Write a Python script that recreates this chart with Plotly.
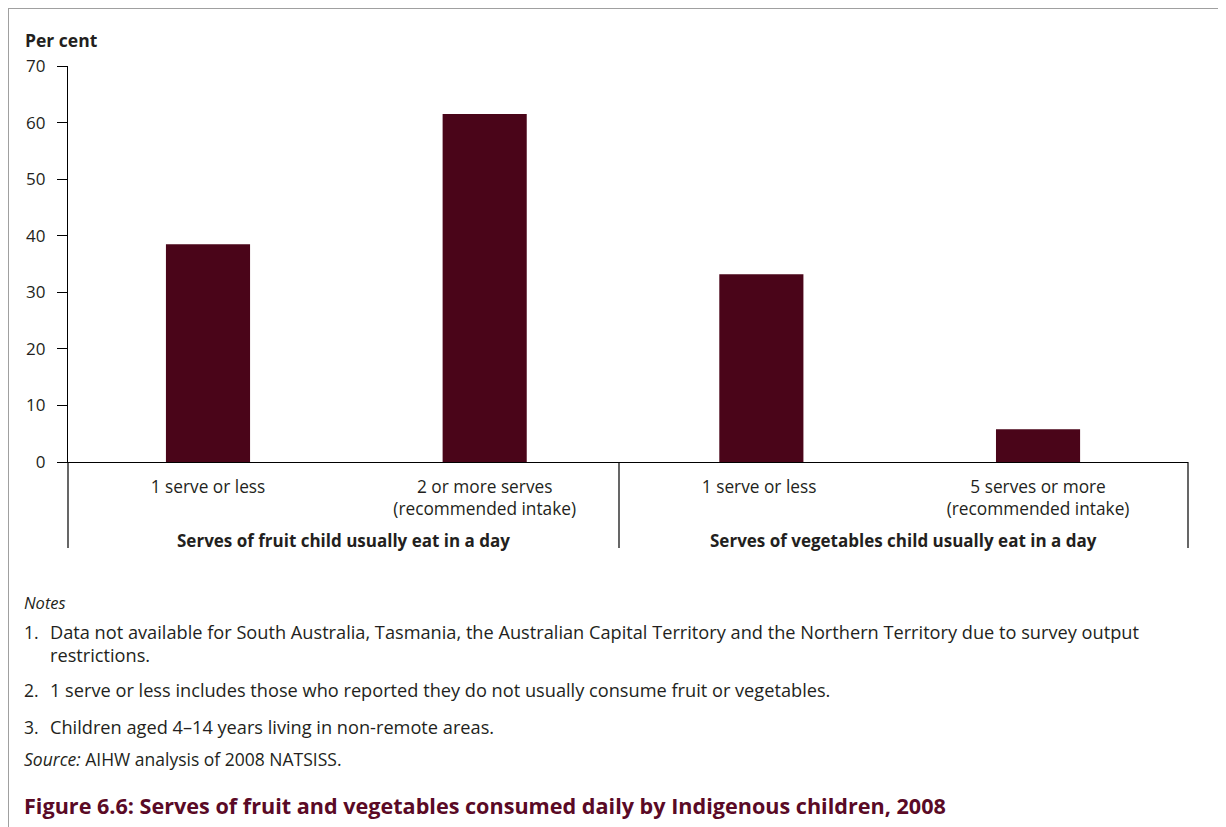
import plotly.graph_objects as go

# ---- data ----
categories = ["1 serve or less", "2 or more serves<br>(recommended intake)",
              "1 serve or less ", "5 serves or more<br>(recommended intake)"]
values = [38.5, 61.5, 33.2, 5.8]
groups = ["Serves of fruit child usually eat in a day",
          "Serves of vegetables child usually eat in a day"]
y_ticks = [0, 10, 20, 30, 40, 50, 60, 70]
notes = [
    ("1.", "Data not available for South Australia, Tasmania, the Australian Capital Territory and the Northern Territory due to survey output"),
    ("", "restrictions."),
    ("2.", "1 serve or less includes those who reported they do not usually consume fruit or vegetables."),
    ("3.", "Children aged 4–14 years living in non-remote areas."),
]
source = "<i>Source:</i> AIHW analysis of 2008 NATSISS."
title = "Figure 6.6: Serves of fruit and vegetables consumed daily by Indigenous children, 2008"

OFF = 8  # page body margin
W, H = 1226 - OFF, 827 - OFF
L, R, T, B = 68 - OFF, 1188 - OFF, 66 - OFF, 462 - OFF
FONT = "Open Sans"
BAR = "#4a0519"
TXT = "#231f20"

def px(xp):  # reference pixel -> paper
    return (xp - OFF - L) / (R - L)

def py(yp):
    return (B - (yp - OFF)) / (B - T)

fig = go.Figure(go.Bar(x=categories, y=values, marker_color=BAR, width=0.304,
                       marker_line_width=0))

fig.update_layout(
    width=W, height=H, margin=dict(l=L, r=W - R, t=T, b=H - B),
    paper_bgcolor="white", plot_bgcolor="white", showlegend=False,
    font=dict(family=FONT, size=16, color=TXT),
)
fig.update_xaxes(type="category", range=[-0.506, 3.542], showline=True, linecolor="black",
                 linewidth=1.2, ticks="", showgrid=False, zeroline=False,
                 tickfont=dict(family=FONT, size=17.3, color=TXT), ticklabelstandoff=9)
fig.update_yaxes(range=[0, 70], tickvals=y_ticks, showline=True, linecolor="black",
                 linewidth=1.2, ticks="outside", ticklen=10, tickcolor="black",
                 tickwidth=1.2, showgrid=False, zeroline=False,
                 tickfont=dict(family=FONT, size=17, color=TXT), ticklabelstandoff=8)

shapes = []
# frame
shapes.append(dict(type="line", xref="paper", yref="paper", x0=px(8), x1=px(1226), y0=py(8), y1=py(8),
                   line=dict(color="#a0a0a0", width=2)))
shapes.append(dict(type="line", xref="paper", yref="paper", x0=px(8), x1=px(8), y0=py(8), y1=py(827),
                   line=dict(color="#a0a0a0", width=2)))
# category box verticals
for xv in [68, 619, 1188]:
    shapes.append(dict(type="line", xref="paper", yref="paper", x0=px(xv), x1=px(xv),
                       y0=py(462), y1=py(548), line=dict(color="black", width=1.2)))
fig.update_layout(shapes=shapes)

ann = []
def add(text, x, y, size, anchor="left", color=TXT):
    ann.append(dict(text=text, x=px(x), y=py(y), xref="paper", yref="paper",
                    xanchor=anchor, yanchor="middle", showarrow=False,
                    font=dict(family=FONT, size=size, color=color)))

add("<b>Per cent</b>", 23, 40, 17.5)
for g, (a, b) in zip(groups, [(68, 619), (619, 1188)]):
    add("<b>" + g + "</b>", (a + b) / 2, 540, 17, anchor="center")
add("<i>Notes</i>", 22, 602, 16.5)
for (num, txt), yv in zip(notes, [632, 655, 690, 727]):
    if num:
        add(num, 22, yv, 17.5)
    add(txt, 48, yv, 18.2)
add(source, 22, 759, 17.5)
add("<b>" + title + "</b>", 22, 805, 21.6, color="#5a0a26")
fig.update_layout(annotations=ann)

fig.write_html("out.html")
